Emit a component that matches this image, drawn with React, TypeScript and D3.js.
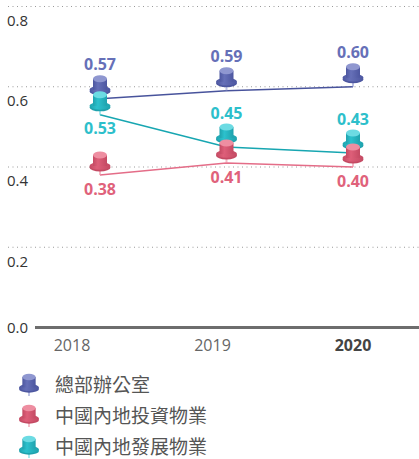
import React, { useEffect, useRef } from "react";
import * as d3 from "d3";

const years = ["2018", "2019", "2020"];
const seriesNames = ["總部辦公室", "中國內地投資物業", "中國內地發展物業"];
const hqValues = [0.57, 0.59, 0.6];
const investValues = [0.38, 0.41, 0.4];
const developValues = [0.53, 0.45, 0.435];
const hqLabels = ["0.57", "0.59", "0.60"];
const investLabels = ["0.38", "0.41", "0.40"];
const developLabels = ["0.53", "0.45", "0.43"];
const yTicks = [0, 0.2, 0.4, 0.6, 0.8];

const series = [
  { key: "hq", name: seriesNames[0], values: hqValues, labels: hqLabels, pos: ["up", "up", "up"], color: "#6670b8", dark: "#4d57a0", light: "#8f97d0", line: "#48539c", text: "#6670b8" },
  { key: "dev", name: seriesNames[2], values: developValues, labels: developLabels, pos: ["down", "up", "up"], color: "#2cc1cd", dark: "#1fa2ad", light: "#6cdbe3", line: "#17a6b1", text: "#2dbfcb" },
  { key: "inv", name: seriesNames[1], values: investValues, labels: investLabels, pos: ["down", "down", "down"], color: "#de5f79", dark: "#c44a63", light: "#ee8ea1", line: "#e46d88", text: "#e0627b" },
];
const legendOrder = ["hq", "inv", "dev"];

function drawPin(g, x, y, s, scale = 1) {
  const p = g.append("g").attr("transform", `translate(${x},${y}) scale(${scale})`);
  p.append("rect").attr("x", -1).attr("y", -8).attr("width", 2).attr("height", 8)
    .attr("fill", s.light).attr("opacity", 0.6);
  p.append("ellipse").attr("cx", 0).attr("cy", -7.5).attr("rx", 10.5).attr("ry", 4).attr("fill", s.dark);
  p.append("ellipse").attr("cx", 0).attr("cy", -9).attr("rx", 10.5).attr("ry", 3.8).attr("fill", `url(#grad-${s.key})`);
  p.append("rect").attr("x", -7).attr("y", -20).attr("width", 14).attr("height", 11)
    .attr("fill", `url(#grad-${s.key})`);
  p.append("ellipse").attr("cx", 0).attr("cy", -20).attr("rx", 7).attr("ry", 3.5).attr("fill", s.light);
}

const App = () => {
  const ref = useRef(null);

  useEffect(() => {
    const svg = d3.select(ref.current);
    svg.selectAll("*").remove();
    const font = "'Open Sans', 'Noto Sans CJK TC', sans-serif";

    const y = d3.scaleLinear().domain([0, 0.8]).range([327.5, 6.5]);
    const x = d3.scalePoint().domain(years).range([100, 353]);
    const xLabel = d3.scalePoint().domain(years).range([72, 353]);

    const defs = svg.append("defs");
    series.forEach(s => {
      const lg = defs.append("linearGradient").attr("id", `grad-${s.key}`)
        .attr("x1", "0%").attr("x2", "100%").attr("y1", "0%").attr("y2", "0%");
      lg.append("stop").attr("offset", "0%").attr("stop-color", s.dark);
      lg.append("stop").attr("offset", "35%").attr("stop-color", s.color);
      lg.append("stop").attr("offset", "100%").attr("stop-color", s.dark);
    });

    // grid
    svg.append("g").selectAll("line")
      .data(yTicks.filter(d => d > 0))
      .enter().append("line")
      .attr("x1", 8).attr("x2", 419)
      .attr("y1", d => y(d)).attr("y2", d => y(d))
      .attr("stroke", "#9a9a9a").attr("stroke-width", 1)
      .attr("stroke-dasharray", "1,3.5");

    // y labels
    svg.append("g").selectAll("text")
      .data(yTicks)
      .enter().append("text")
      .attr("x", 7)
      .attr("y", d => (d === 0 ? y(d) : y(d) + 14))
      .attr("dy", "0.35em")
      .attr("font-family", font).attr("font-size", 15).attr("fill", "#333")
      .text(d => d.toFixed(1));

    // axis
    svg.append("line").attr("x1", 35).attr("x2", 419)
      .attr("y1", y(0)).attr("y2", y(0))
      .attr("stroke", "#6d6d6d").attr("stroke-width", 3);

    svg.append("g").selectAll("text")
      .data(years)
      .enter().append("text")
      .attr("x", d => xLabel(d))
      .attr("y", 345).attr("dy", "0.35em")
      .attr("text-anchor", "middle")
      .attr("font-family", font).attr("font-size", 16)
      .attr("font-weight", (d, i) => (i === years.length - 1 ? 700 : 400))
      .attr("fill", (d, i) => (i === years.length - 1 ? "#444" : "#666"))
      .text(d => d);

    // lines
    const line = d3.line().x(d => x(d[0])).y(d => y(d[1]));
    series.forEach(s => {
      svg.append("path")
        .attr("d", line(years.map((yr, i) => [yr, s.values[i]])))
        .attr("fill", "none").attr("stroke", s.line).attr("stroke-width", 1.5);
    });

    // pins
    series.forEach(s => {
      const g = svg.append("g");
      years.forEach((yr, i) => drawPin(g, x(yr), y(s.values[i]), s));
    });

    // value labels
    series.forEach(s => {
      svg.append("g").selectAll("text")
        .data(years)
        .enter().append("text")
        .attr("x", d => x(d))
        .attr("y", (d, i) => y(s.values[i]) + (s.pos[i] === "up" ? -34 : 14))
        .attr("dy", "0.35em")
        .attr("text-anchor", "middle")
        .attr("font-family", font).attr("font-size", 16).attr("font-weight", 700)
        .attr("fill", s.text)
        .text((d, i) => s.labels[i]);
    });

    // legend
    legendOrder.forEach((k, i) => {
      const s = series.find(d => d.key === k);
      const cy = 385 + i * 31;
      drawPin(svg.append("g"), 29, cy + 11, s, 0.95);
      svg.append("text")
        .attr("x", 55).attr("y", cy).attr("dy", "0.35em")
        .attr("font-family", font).attr("font-size", 19).attr("fill", "#555")
        .text(s.name);
    });
  }, []);

  return (
    <svg ref={ref} width={419} height={459}
      style={{ position: "absolute", left: 0, top: 0, background: "#fff" }} />
  );
};

export default App;
